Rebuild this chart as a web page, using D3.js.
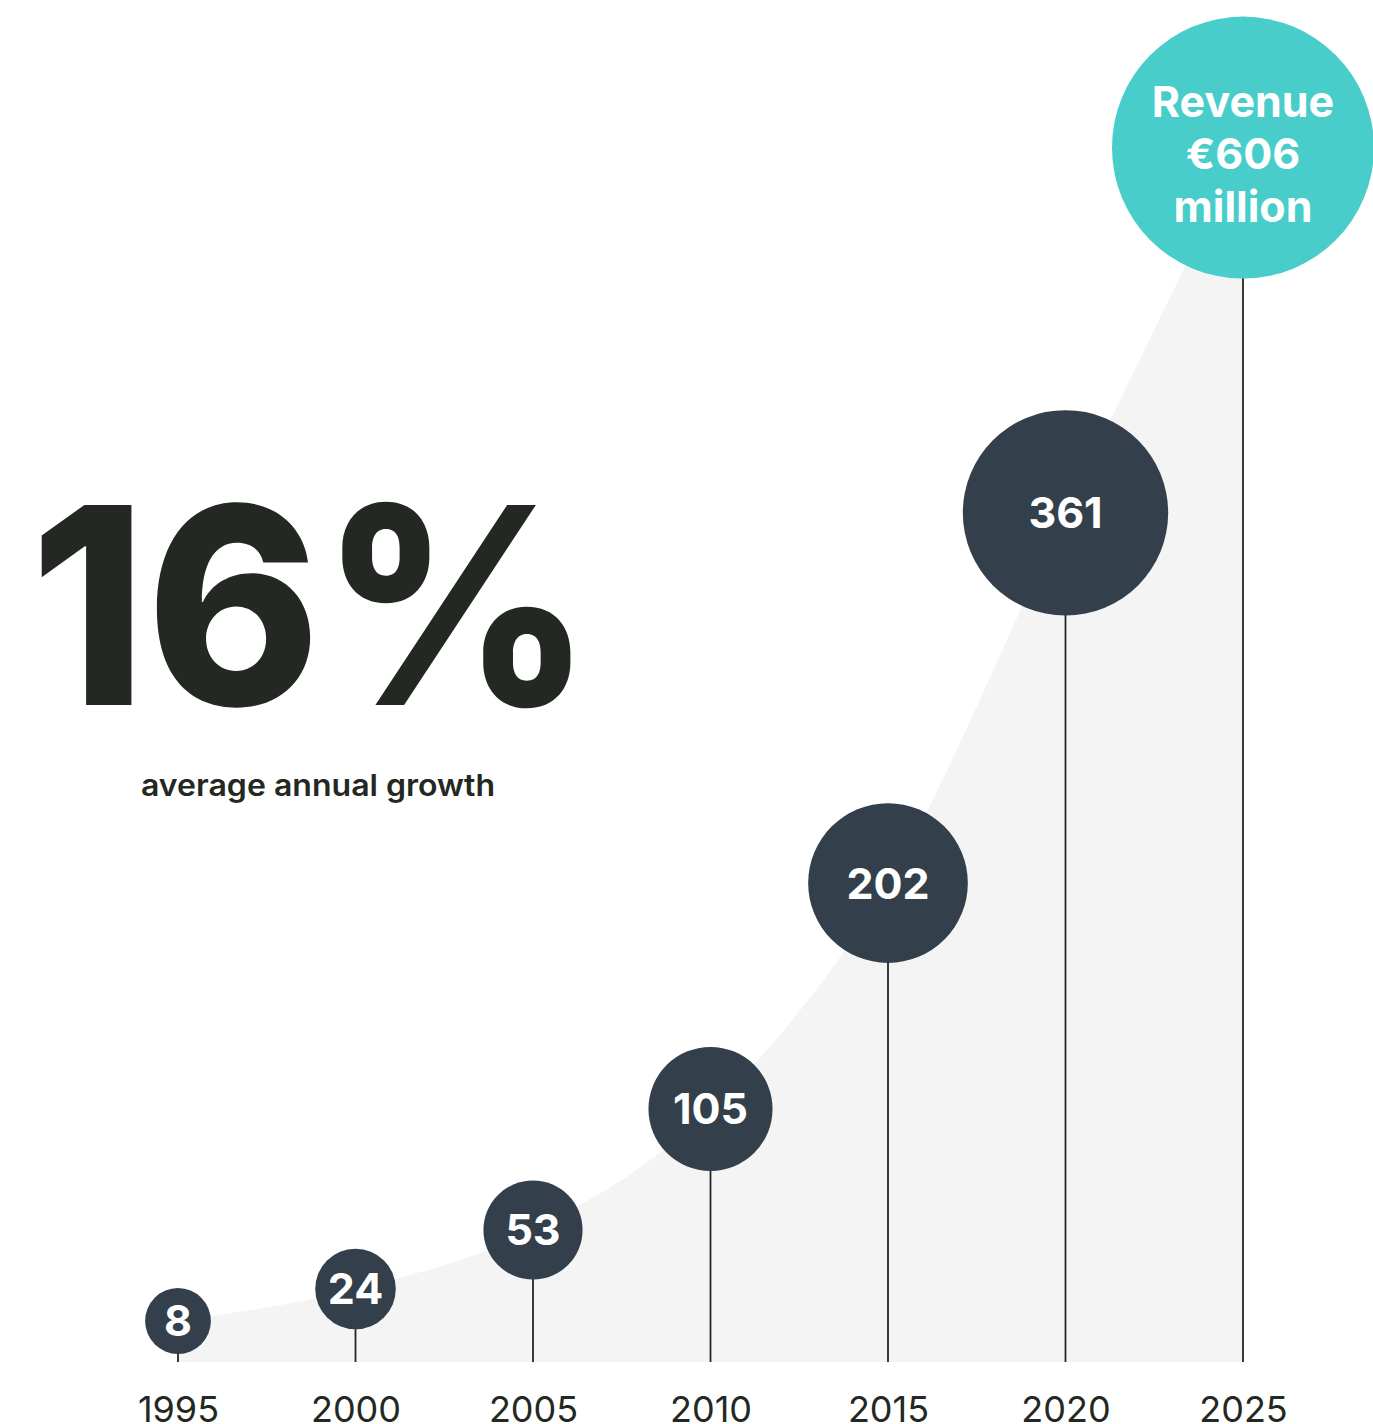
<!DOCTYPE html>
<html>
<head>
<meta charset="utf-8">
<script src="https://cdn.jsdelivr.net/npm/d3@7"></script>
<style>
  body { margin: 0; background: #fff; }
  svg { display: block; font-family: Inter, "Noto Sans", sans-serif; }
</style>
</head>
<body>
<svg id="chart"></svg>
<script>
// revenue in € million, every five years
const years = [1995, 2000, 2005, 2010, 2015, 2020, 2025];
const revenue = [8, 24, 53, 105, 202, 361, 606];
const headline = "16%";
const subline = "average annual growth";
const lastLabel = ["Revenue", "€606", "million"];

const data = years.map((yr, i) => ({ year: yr, value: revenue[i] }));
const last = data[data.length - 1];

const width = 1373,
    height = 1424,
    baseY = 1362;

const svg = d3.select("#chart")
    .attr("width", width)
    .attr("height", height);

// Scales
const x = d3.scaleLinear()
    .domain([1995, 2025])
    .range([178, 1243]);

// vertical scale is squeezed at both ends so the bubbles fit the page
const y = d3.scaleLinear()
    .domain([0, 50, 400, 650])
    .range([1337, 1237, 422, 89]);

const r = d3.scalePow().exponent(0.6)
    .domain([0, 606])
    .range([25, 131]);

// Area under the curve
const area = d3.area()
    .x(d => x(d.year))
    .y0(baseY)
    .y1(d => y(d.value))
    .curve(d3.curveMonotoneX);

svg.append("path")
    .datum(data)
    .attr("d", area)
    .attr("fill", "#f4f4f4");

// Headline
svg.append("text")
    .attr("x", 30)
    .attr("y", 705)
    .attr("font-size", 275)
    .attr("font-weight", 800)
    .attr("fill", "#232822")
    .attr("textLength", 562)
    .attr("lengthAdjust", "spacingAndGlyphs")
    .text(headline);

svg.append("text")
    .attr("x", 141)
    .attr("y", 796)
    .attr("font-size", 30)
    .attr("font-weight", 600)
    .attr("fill", "#232822")
    .attr("textLength", 354)
    .attr("lengthAdjust", "spacingAndGlyphs")
    .text(subline);

// Stems
svg.append("g")
    .selectAll("line")
    .data(data)
    .join("line")
    .attr("x1", d => x(d.year))
    .attr("x2", d => x(d.year))
    .attr("y1", d => y(d.value))
    .attr("y2", baseY)
    .attr("stroke", "#232822")
    .attr("stroke-width", 1.8);

// Bubbles
const bubbles = svg.append("g")
    .selectAll("g")
    .data(data)
    .join("g")
    .attr("transform", d => "translate(" + x(d.year) + "," + y(d.value) + ")");

bubbles.append("circle")
    .attr("r", d => r(d.value))
    .attr("fill", d => d === last ? "#48cdcb" : "#333f4a");

bubbles.filter(d => d !== last)
    .append("text")
    .attr("text-anchor", "middle")
    .attr("dy", "0.36em")
    .attr("font-size", 43)
    .attr("font-weight", 700)
    .attr("fill", "#fff")
    .text(d => d.value);

bubbles.filter(d => d === last)
    .append("text")
    .attr("text-anchor", "middle")
    .attr("font-size", 43)
    .attr("font-weight", 700)
    .attr("fill", "#fff")
    .selectAll("tspan")
    .data(lastLabel)
    .join("tspan")
    .attr("x", 0)
    .attr("y", (d, i) => -31 + i * 52.5)
    .text(d => d);

// Year axis
const axis = svg.append("g")
    .attr("transform", "translate(0," + baseY + ")")
    .call(d3.axisBottom(x).tickValues(years).tickSize(0).tickFormat(d3.format("d")));

axis.select(".domain").remove();
axis.selectAll("text")
    .attr("y", 60)
    .attr("dy", 0)
    .attr("font-size", 36)
    .attr("font-family", "Inter, sans-serif")
    .attr("fill", "#232822");
</script>
</body>
</html>
